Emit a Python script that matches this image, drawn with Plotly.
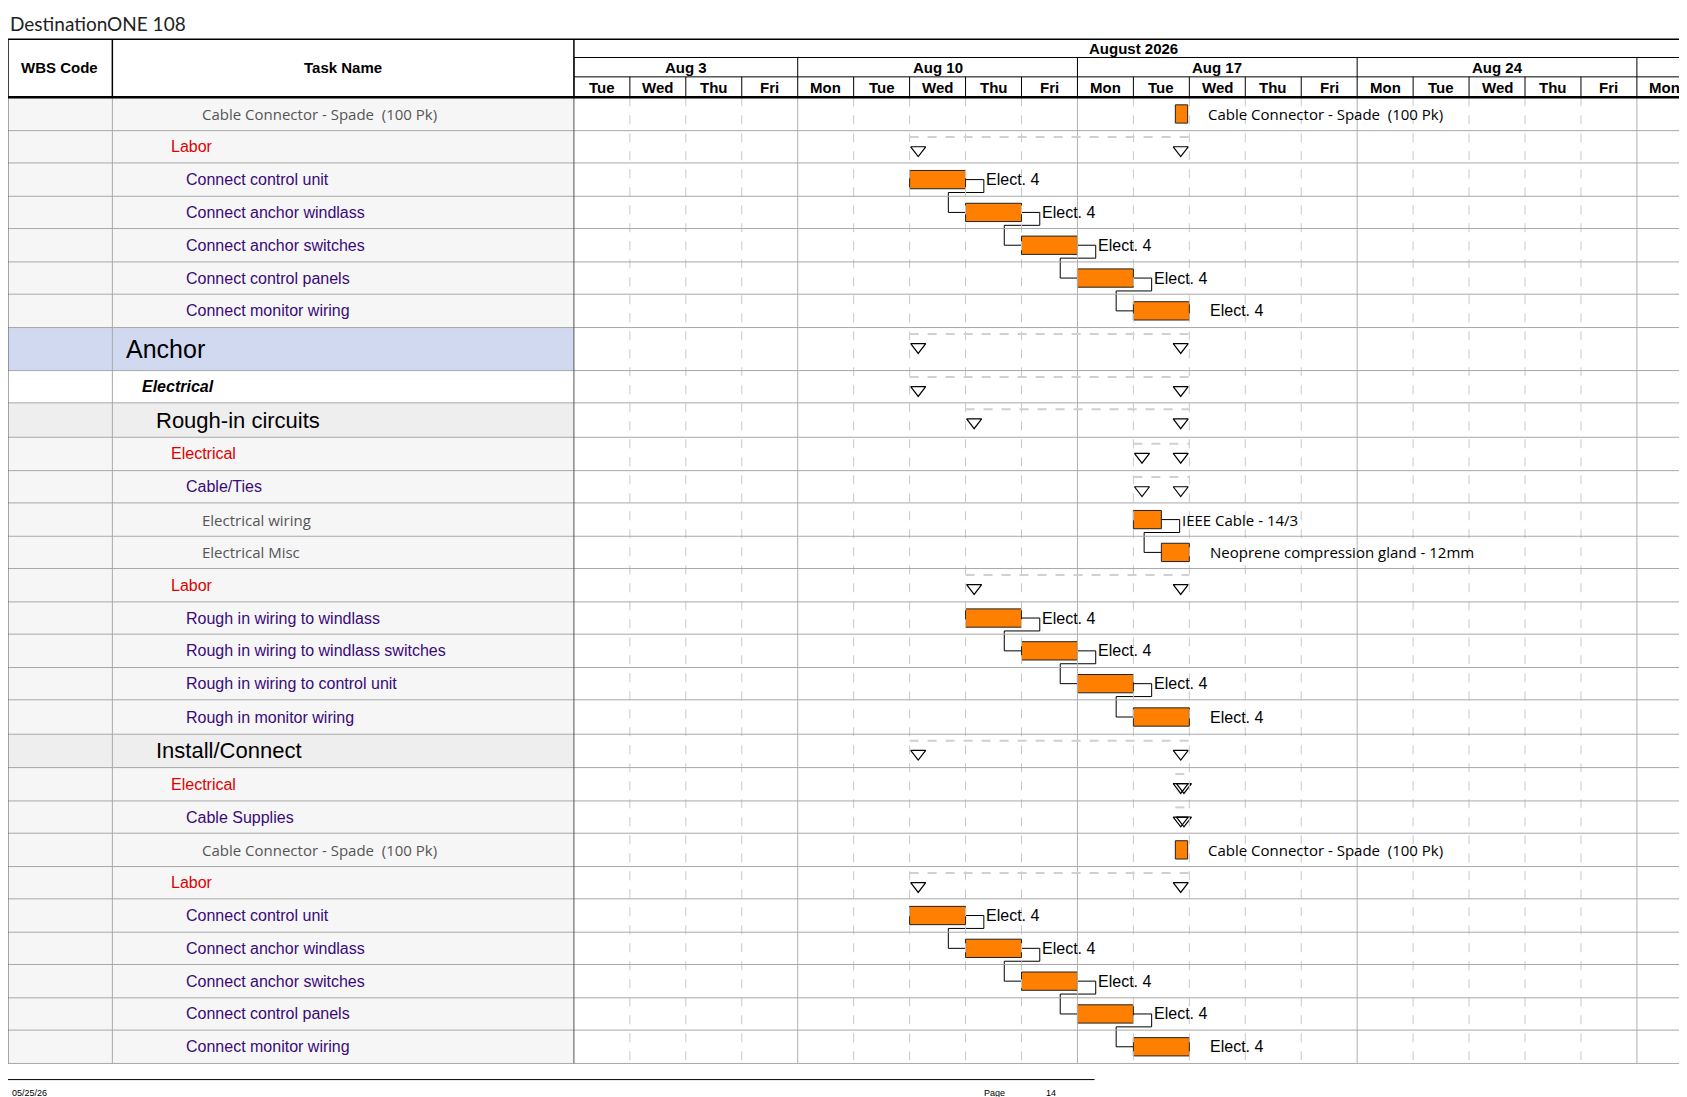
import plotly.graph_objects as go

W, H = 1687, 1097
S = 1687 / 1568.0
def p(v): return v * S

# ---------------- data ----------------
day_labels = ["Tue","Wed","Thu","Fri","Mon","Tue","Wed","Thu","Fri","Mon","Tue","Wed","Thu","Fri","Mon","Tue","Wed","Thu","Fri","Mon"]
week_labels = ["Aug 3", "Aug 10", "Aug 17", "Aug 24", ""]
week_starts = [0, 4, 9, 14, 19]
week_ends = [4, 9, 14, 19, 20]
month_label = "August 2026"

wbs = ["322-12-02-E 0","322-12-02-L","322-12-02-L","322-12-02-L","322-12-02-L","322-12-02-L","322-12-02-L",
       "323","323-12","323-12-01","323-12-01-E","323-12-01-E","323-12-01-E 0","323-12-01-E 0","323-12-01-L",
       "323-12-01-L","323-12-01-L","323-12-01-L","323-12-01-L","323-12-02","323-12-02-E","323-12-02-E",
       "323-12-02-E 0","323-12-02-L","323-12-02-L","323-12-02-L","323-12-02-L","323-12-02-L","323-12-02-L"]
names = ["Cable Connector - Spade  (100 Pk)","Labor","Connect control unit","Connect anchor windlass",
         "Connect anchor switches","Connect control panels","Connect monitor wiring","Anchor","Electrical",
         "Rough-in circuits","Electrical","Cable/Ties","Electrical wiring","Electrical Misc","Labor",
         "Rough in wiring to windlass","Rough in wiring to windlass switches","Rough in wiring to control unit",
         "Rough in monitor wiring","Install/Connect","Electrical","Cable Supplies",
         "Cable Connector - Spade  (100 Pk)","Labor","Connect control unit","Connect anchor windlass",
         "Connect anchor switches","Connect control panels","Connect monitor wiring"]
kinds = ["item","grp","task","task","task","task","task","l1","l2","l3","grp","task","item","item","grp",
         "task","task","task","task","l3","grp","task","item","grp","task","task","task","task","task"]
row_h = [31,30,31,30,31,30,31,40,30,32,31,30,31,30,31,30,31,30,32,31,31,30,31,30,31,30,31,30,31]
sched_type = ["bar","sum","bar","bar","bar","bar","bar","sum","sum","sum","sum","sum","bar","bar","sum",
              "bar","bar","bar","bar","sum","sum","sum","bar","sum","bar","bar","bar","bar","bar"]
start = [10.75,6,6,7,8,9,10,6,6,7,10,10,10,10.5,7,7,8,9,10,6,10.75,10.75,10.75,6,6,7,8,9,10]
end =   [10.97,11,7,8,9,10,11,11,11,11,11,11,10.5,11,11,8,9,10,11,11,11,11,10.97,11,7,8,9,10,11]
bar_label = ["Cable Connector - Spade  (100 Pk)","","Elect. 4","Elect. 4","Elect. 4","Elect. 4","Elect. 4",
             "","","","","","IEEE Cable - 14/3","Neoprene compression gland - 12mm","",
             "Elect. 4","Elect. 4","Elect. 4","Elect. 4","","","","Cable Connector - Spade  (100 Pk)","",
             "Elect. 4","Elect. 4","Elect. 4","Elect. 4","Elect. 4"]
links = [(2,3),(3,4),(4,5),(5,6),(12,13),(15,16),(16,17),(17,18),(24,25),(25,26),(26,27),(27,28)]

# ---------------- geometry ----------------
TOP = 83
tops = []
y = TOP
for h in row_h:
    tops.append(y); y += h
BOT = y
centers = [t + h / 2 for t, h in zip(tops, row_h)]
X0, X1 = 526, 1566
NDAYS = 20
def dx(px): return px / ((X1 - X0) / NDAYS)

fig = go.Figure()
shapes, ann = [], []
def line(x0, y0, x1, y1, color="#000", w=1, dash=None, xref="x"):
    shapes.append(dict(type="line", xref=xref, yref="y", x0=x0 if xref == "x2" else p(x0), x1=x1 if xref == "x2" else p(x1),
                       y0=p(y0), y1=p(y1), line=dict(color=color, width=w, dash=dash)))
def rect(x0, y0, x1, y1, fill, xref="x"):
    shapes.append(dict(type="rect", xref=xref, yref="y", x0=p(x0), x1=p(x1), y0=p(y0), y1=p(y1),
                       fillcolor=fill, line=dict(width=0), layer="below"))
def text(x, y, s, size=15, color="#000", family="Liberation Sans", xanchor="left", xref="x", bold=False, italic=False):
    if bold: s = "<b>" + s + "</b>"
    if italic: s = "<i>" + s + "</i>"
    ann.append(dict(x=x if xref == "x2" else p(x), y=p(y), xref=xref, yref="y", text=s, showarrow=False,
                    xanchor=xanchor, yanchor="middle", font=dict(size=size, color=color, family=family)))

for i, k in enumerate(kinds):
    fill = {"l1": "#d1d9f0", "l2": "#ffffff", "l3": "#eeeeee"}.get(k, "#f6f6f6")
    rect(0, tops[i], X0, tops[i] + row_h[i], fill)

for d in range(1, NDAYS):
    solid = d in week_starts
    line(d, TOP, d, BOT, color="#b0b0b0" if solid else "#c8c8c8", w=1, dash=None if solid else "dash", xref="x2")
for t in tops[1:] + [BOT]:
    line(0, t, X1, t, color="#a8a8a8", w=1)
line(97, TOP, 97, BOT, color="#a8a8a8")
line(X0, TOP, X0, BOT, color="#555")
line(0, TOP, 0, BOT, color="#555")
line(1563, TOP, 1563, BOT, color="#1a237e", w=1)

line(0, 29, 1566, 29, w=1.5)
line(X0, 46, 1566, 46, w=1)
line(X0, 64, 1566, 64, w=1)
line(0, 83, 1566, 83, w=2.5)
line(0, 29, 0, 83, w=1.5)
line(97, 29, 97, 83, w=1.5)
line(X0, 29, X0, 83, w=1.5)
line(1562, 29, 1562, 83, w=1)
line(1566, 29, 1566, 83, w=1.5)
text(48, 55, "WBS Code", 15, bold=True, xanchor="center")
text(311, 55, "Task Name", 15, bold=True, xanchor="center")
text(10, 37.5, month_label, 15, bold=True, xanchor="center", xref="x2")
for ws, we, wl in zip(week_starts, week_ends, week_labels):
    line(ws, 46, ws, 64, xref="x2")
    if wl: text((ws + we) / 2, 55, wl, 15, bold=True, xanchor="center", xref="x2")
for d, dl in enumerate(day_labels):
    line(d, 64, d, 83, xref="x2")
    text(d + 0.5, 74, dl, 15, bold=True, xanchor="center", xref="x2")

text(0, 14, "DestinationONE 108", 19, color="#222", family="Lato")
line(0, 996, 1010, 996, color="#000", w=1)
text(2, 1008, "05/25/26", 9)
text(905, 1008, "Page", 9)
text(963, 1008, "14", 9)

styles = {
    "item": dict(size=15, color="#555", family="Open Sans", nx=180, ws=15),
    "grp":  dict(size=16, color="#e00000", family="Liberation Sans", nx=152, ws=16),
    "task": dict(size=16, color="#3a0a78", family="Liberation Sans", nx=166, ws=16),
    "l1":   dict(size=25, color="#000", family="Liberation Sans", nx=110, ws=25),
    "l2":   dict(size=16, color="#000", family="Liberation Sans", nx=125, ws=16),
    "l3":   dict(size=22, color="#000", family="Liberation Sans", nx=138, ws=22),
}
for i, k in enumerate(kinds):
    st = styles[k]
    b = k == "l2"
    text(-2, centers[i], wbs[i], st["ws"], st["color"], st["family"], bold=b, italic=b)
    text(st["nx"] - 2, centers[i], names[i], st["size"], st["color"], st["family"], bold=b, italic=b)

tri_x, tri_y = [], []
for i, t in enumerate(sched_type):
    if t == "sum":
        line(start[i], tops[i] + 6, end[i], tops[i] + 6, color="#d0d0d0", w=2, dash="dash", xref="x2")
        tri_x += [start[i] + dx(8), end[i] - dx(8)]
        tri_y += [p(tops[i] + 18)] * 2
fig.add_trace(go.Scatter(x=tri_x, y=tri_y, xaxis="x2", yaxis="y", mode="markers",
                         marker=dict(symbol="triangle-down-open", size=13, color="#000", line=dict(width=1.2)),
                         hoverinfo="skip", showlegend=False))

bi = [i for i, t in enumerate(sched_type) if t == "bar"]
fig.add_trace(go.Bar(orientation="h", xaxis="x2", yaxis="y",
                     y=[p(centers[i]) for i in bi], base=[start[i] for i in bi],
                     x=[end[i] - start[i] for i in bi], width=p(17),
                     marker=dict(color="#ff8000", line=dict(color="#222", width=1)),
                     hoverinfo="skip", showlegend=False))

lx, ly = [], []
for a, b in links:
    e = end[a]; ca, cb = centers[a], centers[b]
    pts = [(e, ca), (e + dx(17), ca), (e + dx(17), ca + 12), (e - dx(16), ca + 12), (e - dx(16), cb), (start[b], cb)]
    for x_, y_ in pts:
        lx.append(x_); ly.append(p(y_))
    lx.append(None); ly.append(None)
fig.add_trace(go.Scatter(x=lx, y=ly, xaxis="x2", yaxis="y", mode="lines", line=dict(color="#000", width=1),
                         hoverinfo="skip", showlegend=False))

for i in bi:
    if bar_label[i]:
        el = bar_label[i].startswith("Elect")
        text(end[i] + dx(17), centers[i], bar_label[i], 16 if el else 15,
             "#000", "Liberation Sans" if el else "Open Sans", xref="x2")

fig.update_layout(
    width=W, height=H, margin=dict(l=0, r=0, t=0, b=0), paper_bgcolor="white", plot_bgcolor="rgba(0,0,0,0)",
    barmode="overlay", shapes=shapes, annotations=ann,
    xaxis=dict(range=[0, W], domain=[0, 1], visible=False, fixedrange=True),
    xaxis2=dict(range=[0, NDAYS], domain=[p(X0) / W, p(X1) / W], anchor="y", visible=False),
    yaxis=dict(range=[H, 0], visible=False),
)
fig.write_html("out.html")
